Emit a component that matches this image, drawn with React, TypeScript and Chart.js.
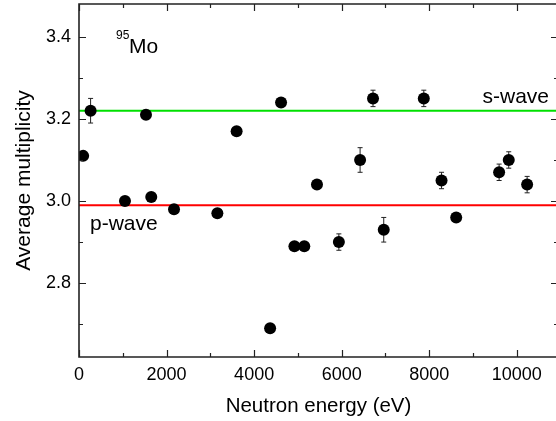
import React, { useEffect, useRef } from "react";
import { Chart, registerables } from "chart.js";

Chart.register(...registerables);

// Neutron energy (eV)
const energies = [95, 265, 1050, 1530, 1650, 2170, 3160, 3600, 4365, 4615, 4920, 5145, 5435, 5935, 6420, 6715, 6960, 7875, 8280, 8615, 9595, 9815, 10235];
// Average multiplicity
const multiplicities = [3.11, 3.22, 3.0, 3.21, 3.01, 2.98, 2.97, 3.17, 2.69, 3.24, 2.89, 2.89, 3.04, 2.9, 3.1, 3.25, 2.93, 3.25, 3.05, 2.96, 3.07, 3.1, 3.04];
// Errors
const errors = [0.01, 0.03, 0.01, 0.01, 0.01, 0.01, 0.01, 0.01, 0.01, 0.01, 0.01, 0.01, 0.01, 0.02, 0.03, 0.02, 0.03, 0.02, 0.02, 0.01, 0.02, 0.02, 0.02];

const sWaveLevel = 3.22;
const pWaveLevel = 2.99;

const xMin = 0;
const xMax = 10940;
const yMin = 2.62;
const yMax = 3.48;

const xMajorTicks = [0, 2000, 4000, 6000, 8000, 10000];
const xMinorTicks = [1000, 3000, 5000, 7000, 9000];
const yMajorTicks = [2.8, 3.0, 3.2, 3.4];
const yMinorTicks = [2.7, 2.9, 3.1, 3.3];

const FONT = "'Liberation Sans', Arial, Helvetica, sans-serif";

const framePlugin = {
  id: "frame",
  beforeDatasetsDraw(chart: any) {
    const { ctx, scales } = chart;
    const xs = scales.x;
    const ys = scales.y;
    ctx.save();
    ctx.strokeStyle = "#222";
    ctx.lineWidth = 1;
    energies.forEach((e, i) => {
      const px = xs.getPixelForValue(e);
      const top = ys.getPixelForValue(multiplicities[i] + errors[i]);
      const bot = ys.getPixelForValue(multiplicities[i] - errors[i]);
      ctx.beginPath();
      ctx.moveTo(px, top);
      ctx.lineTo(px, bot);
      ctx.moveTo(px - 2.5, top);
      ctx.lineTo(px + 2.5, top);
      ctx.moveTo(px - 2.5, bot);
      ctx.lineTo(px + 2.5, bot);
      ctx.stroke();
    });
    ctx.restore();
  },
  afterDraw(chart: any) {
    const { ctx, chartArea, scales } = chart;
    const { left, right, top, bottom } = chartArea;
    const xs = scales.x;
    const ys = scales.y;
    ctx.save();
    ctx.strokeStyle = "#222";
    ctx.lineWidth = 1.6;
    ctx.beginPath();
    ctx.rect(left, top, right - left, bottom - top);
    ctx.stroke();
    ctx.lineWidth = 1.2;
    const major = 7;
    const minor = 4;
    ctx.beginPath();
    const xt = (v: number, len: number) => {
      const px = Math.round(xs.getPixelForValue(v)) + 0.5;
      ctx.moveTo(px, bottom);
      ctx.lineTo(px, bottom - len);
      ctx.moveTo(px, top);
      ctx.lineTo(px, top + len);
    };
    const yt = (v: number, len: number) => {
      const py = Math.round(ys.getPixelForValue(v)) + 0.5;
      ctx.moveTo(left, py);
      ctx.lineTo(left + len, py);
      ctx.moveTo(right, py);
      ctx.lineTo(right - len, py);
    };
    xMajorTicks.forEach((v) => xt(v, major));
    xMinorTicks.forEach((v) => xt(v, minor));
    yMajorTicks.forEach((v) => yt(v, major));
    yMinorTicks.forEach((v) => yt(v, minor));
    ctx.stroke();

    // annotations
    ctx.fillStyle = "#000";
    ctx.textBaseline = "alphabetic";
    ctx.font = `21px ${FONT}`;
    ctx.textAlign = "right";
    ctx.fillText("s-wave", right - 9, ys.getPixelForValue(sWaveLevel) - 8);
    ctx.textAlign = "left";
    ctx.fillText("p-wave", left + 11, ys.getPixelForValue(pWaveLevel) + 25);
    ctx.font = `21px ${FONT}`;
    ctx.fillText("Mo", left + 50, top + 49);
    ctx.font = `12px ${FONT}`;
    ctx.fillText("95", left + 37, top + 35);
    ctx.restore();
  },
};

const zeroPadding = (s: any) => {
  s.paddingTop = 0;
  s.paddingBottom = 0;
  s.paddingLeft = 0;
  s.paddingRight = 0;
};

export default function App() {
  const ref = useRef<HTMLCanvasElement | null>(null);
  useEffect(() => {
    if (!ref.current) return;
    const points = energies.map((e, i) => ({ x: e, y: multiplicities[i] }));
    const chart = new Chart(ref.current, {
      type: "scatter",
      data: {
        datasets: [
          {
            type: "line",
            data: [
              { x: xMin, y: sWaveLevel },
              { x: xMax, y: sWaveLevel },
            ],
            borderColor: "#00e000",
            borderWidth: 2,
            pointRadius: 0,
            order: 3,
          } as any,
          {
            type: "line",
            data: [
              { x: xMin, y: pWaveLevel },
              { x: xMax, y: pWaveLevel },
            ],
            borderColor: "#ff0000",
            borderWidth: 2,
            pointRadius: 0,
            order: 2,
          } as any,
          {
            data: points,
            backgroundColor: "#000",
            borderColor: "#000",
            borderWidth: 0,
            pointRadius: 6,
            order: 1,
          },
        ],
      },
      options: {
        responsive: false,
        animation: false,
        devicePixelRatio: 1,
        layout: { autoPadding: false, padding: { top: 4, right: 0, bottom: 0, left: 0 } },
        plugins: {
          legend: { display: false },
          tooltip: { enabled: false },
        },
        scales: {
          x: {
            type: "linear",
            min: xMin,
            max: xMax,
            grid: { display: false, drawTicks: false },
            border: { display: false },
            afterBuildTicks: (s: any) => {
              s.ticks = xMajorTicks.map((v) => ({ value: v }));
            },
            afterFit: (s: any) => {
              s.height = 64;
              zeroPadding(s);
            },
            ticks: {
              padding: 7,
              color: "#000",
              font: { family: FONT, size: 18 },
              maxRotation: 0,
              autoSkip: false,
              callback: (v: any) => String(v),
            },
            title: {
              display: true,
              text: "Neutron energy (eV)",
              color: "#000",
              font: { family: FONT, size: 20.5 },
              padding: { top: 0, bottom: 2 },
            },
          },
          y: {
            type: "linear",
            min: yMin,
            max: yMax,
            grid: { display: false, drawTicks: false },
            border: { display: false },
            afterBuildTicks: (s: any) => {
              s.ticks = yMajorTicks.map((v) => ({ value: v }));
            },
            afterFit: (s: any) => {
              s.width = 79;
              zeroPadding(s);
            },
            ticks: {
              padding: 8,
              color: "#000",
              font: { family: FONT, size: 18 },
              autoSkip: false,
              callback: (v: any) => Number(v).toFixed(1),
            },
            title: {
              display: true,
              text: "Average multiplicity",
              color: "#000",
              font: { family: FONT, size: 21 },
              padding: { top: 12, bottom: 0 },
            },
          },
        },
      },
      plugins: [framePlugin],
    });
    return () => chart.destroy();
  }, []);
  return (
    <div style={{ position: "fixed", left: 0, top: 0, width: 556, height: 421, overflow: "hidden", background: "#fff" }}>
      <canvas ref={ref} width={558} height={421} style={{ display: "block" }} />
    </div>
  );
}
